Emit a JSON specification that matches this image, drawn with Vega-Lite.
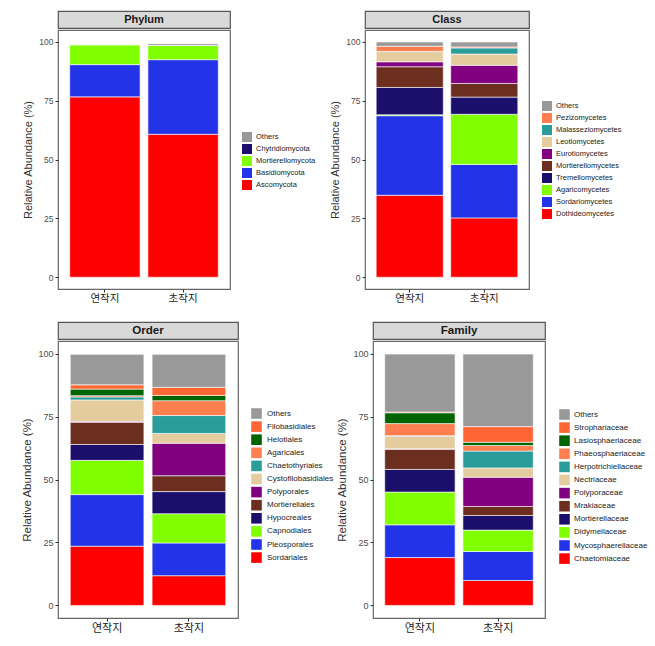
{
  "$schema": "https://vega.github.io/schema/vega-lite/v6.json",
  "background": "white",
  "padding": {"left": 21, "top": 10, "right": 0, "bottom": 0},
  "config": {
    "font": "Liberation Sans",
    "view": {"stroke": "#666666", "strokeWidth": 1.2},
    "axis": {"grid": false, "domain": false, "tickColor": "#333333", "tickSize": 3, "labelColor": "#4D4D4D", "titleColor": "#333333", "titleFontWeight": "normal", "labelFont": "Liberation Sans", "titleFont": "Liberation Sans"},
    "axisX": {"labelAngle": 0, "labelFont": "Noto Sans CJK KR", "labelColor": "#1A1A1A", "labelPadding": 1, "title": null},
    "axisY": {"labelPadding": 2, "titlePadding": 5},
    "legend": {"orient": "none", "direction": "vertical", "symbolType": "square", "symbolStrokeWidth": 0, "symbolOpacity": 1, "labelColor": "#222222", "labelFont": "Liberation Sans", "rowPadding": 2, "labelOffset": 4, "padding": 0, "title": null}
  },
  "datasets": {
    "phylum": [
      {"sample": "연작지", "taxon": "Ascomycota", "rank": 1, "value": 76.6},
      {"sample": "연작지", "taxon": "Basidiomycota", "rank": 2, "value": 13.7},
      {"sample": "연작지", "taxon": "Mortierellomycota", "rank": 3, "value": 8.4},
      {"sample": "연작지", "taxon": "Chytridiomycota", "rank": 4, "value": 0.1},
      {"sample": "연작지", "taxon": "Others", "rank": 5, "value": 0.2},
      {"sample": "초작지", "taxon": "Ascomycota", "rank": 1, "value": 60.7},
      {"sample": "초작지", "taxon": "Basidiomycota", "rank": 2, "value": 31.7},
      {"sample": "초작지", "taxon": "Mortierellomycota", "rank": 3, "value": 6.0},
      {"sample": "초작지", "taxon": "Chytridiomycota", "rank": 4, "value": 0.1},
      {"sample": "초작지", "taxon": "Others", "rank": 5, "value": 0.7}
    ],
    "class": [
      {"sample": "연작지", "taxon": "Dothideomycetes", "rank": 1, "value": 34.8},
      {"sample": "연작지", "taxon": "Sordariomycetes", "rank": 2, "value": 33.8},
      {"sample": "연작지", "taxon": "Agaricomycetes", "rank": 3, "value": 0.4},
      {"sample": "연작지", "taxon": "Tremellomycetes", "rank": 4, "value": 11.6},
      {"sample": "연작지", "taxon": "Mortierellomycetes", "rank": 5, "value": 8.8},
      {"sample": "연작지", "taxon": "Eurotiomycetes", "rank": 6, "value": 2.1},
      {"sample": "연작지", "taxon": "Leotiomycetes", "rank": 7, "value": 4.3},
      {"sample": "연작지", "taxon": "Malasseziomycetes", "rank": 8, "value": 0.1},
      {"sample": "연작지", "taxon": "Pezizomycetes", "rank": 9, "value": 2.2},
      {"sample": "연작지", "taxon": "Others", "rank": 10, "value": 1.8},
      {"sample": "초작지", "taxon": "Dothideomycetes", "rank": 1, "value": 25.2},
      {"sample": "초작지", "taxon": "Sordariomycetes", "rank": 2, "value": 22.7},
      {"sample": "초작지", "taxon": "Agaricomycetes", "rank": 3, "value": 21.3},
      {"sample": "초작지", "taxon": "Tremellomycetes", "rank": 4, "value": 7.3},
      {"sample": "초작지", "taxon": "Mortierellomycetes", "rank": 5, "value": 5.8},
      {"sample": "초작지", "taxon": "Eurotiomycetes", "rank": 6, "value": 7.7},
      {"sample": "초작지", "taxon": "Leotiomycetes", "rank": 7, "value": 4.8},
      {"sample": "초작지", "taxon": "Malasseziomycetes", "rank": 8, "value": 2.6},
      {"sample": "초작지", "taxon": "Pezizomycetes", "rank": 9, "value": 0.4},
      {"sample": "초작지", "taxon": "Others", "rank": 10, "value": 2.1}
    ],
    "order": [
      {"sample": "연작지", "taxon": "Sordariales", "rank": 1, "value": 23.5},
      {"sample": "연작지", "taxon": "Pleosporales", "rank": 2, "value": 20.5},
      {"sample": "연작지", "taxon": "Capnodiales", "rank": 3, "value": 13.6},
      {"sample": "연작지", "taxon": "Hypocreales", "rank": 4, "value": 6.3},
      {"sample": "연작지", "taxon": "Mortierellales", "rank": 5, "value": 8.8},
      {"sample": "연작지", "taxon": "Polyporales", "rank": 6, "value": 0.4},
      {"sample": "연작지", "taxon": "Cystofilobasidiales", "rank": 7, "value": 8.5},
      {"sample": "연작지", "taxon": "Chaetothyriales", "rank": 8, "value": 1.2},
      {"sample": "연작지", "taxon": "Agaricales", "rank": 9, "value": 0.5},
      {"sample": "연작지", "taxon": "Helotiales", "rank": 10, "value": 2.6},
      {"sample": "연작지", "taxon": "Filobasidiales", "rank": 11, "value": 1.7},
      {"sample": "연작지", "taxon": "Others", "rank": 12, "value": 12.1},
      {"sample": "초작지", "taxon": "Sordariales", "rank": 1, "value": 11.8},
      {"sample": "초작지", "taxon": "Pleosporales", "rank": 2, "value": 13.0},
      {"sample": "초작지", "taxon": "Capnodiales", "rank": 3, "value": 11.6},
      {"sample": "초작지", "taxon": "Hypocreales", "rank": 4, "value": 8.8},
      {"sample": "초작지", "taxon": "Mortierellales", "rank": 5, "value": 6.3},
      {"sample": "초작지", "taxon": "Polyporales", "rank": 6, "value": 12.9},
      {"sample": "초작지", "taxon": "Cystofilobasidiales", "rank": 7, "value": 3.9},
      {"sample": "초작지", "taxon": "Chaetothyriales", "rank": 8, "value": 7.1},
      {"sample": "초작지", "taxon": "Agaricales", "rank": 9, "value": 5.9},
      {"sample": "초작지", "taxon": "Helotiales", "rank": 10, "value": 2.1},
      {"sample": "초작지", "taxon": "Filobasidiales", "rank": 11, "value": 3.2},
      {"sample": "초작지", "taxon": "Others", "rank": 12, "value": 13.1}
    ],
    "family": [
      {"sample": "연작지", "taxon": "Chaetomiaceae", "rank": 1, "value": 19.0},
      {"sample": "연작지", "taxon": "Mycosphaerellaceae", "rank": 2, "value": 13.0},
      {"sample": "연작지", "taxon": "Didymellaceae", "rank": 3, "value": 13.0},
      {"sample": "연작지", "taxon": "Mortierellaceae", "rank": 4, "value": 9.0},
      {"sample": "연작지", "taxon": "Mrakiaceae", "rank": 5, "value": 8.0},
      {"sample": "연작지", "taxon": "Polyporaceae", "rank": 6, "value": 0.2},
      {"sample": "연작지", "taxon": "Nectriaceae", "rank": 7, "value": 5.0},
      {"sample": "연작지", "taxon": "Herpotrichiellaceae", "rank": 8, "value": 0.2},
      {"sample": "연작지", "taxon": "Phaeosphaeriaceae", "rank": 9, "value": 4.8},
      {"sample": "연작지", "taxon": "Lasiosphaeriaceae", "rank": 10, "value": 4.3},
      {"sample": "연작지", "taxon": "Strophariaceae", "rank": 11, "value": 0.3},
      {"sample": "연작지", "taxon": "Others", "rank": 12, "value": 23.0},
      {"sample": "초작지", "taxon": "Chaetomiaceae", "rank": 1, "value": 9.9},
      {"sample": "초작지", "taxon": "Mycosphaerellaceae", "rank": 2, "value": 11.5},
      {"sample": "초작지", "taxon": "Didymellaceae", "rank": 3, "value": 8.5},
      {"sample": "초작지", "taxon": "Mortierellaceae", "rank": 4, "value": 5.8},
      {"sample": "초작지", "taxon": "Mrakiaceae", "rank": 5, "value": 3.6},
      {"sample": "초작지", "taxon": "Polyporaceae", "rank": 6, "value": 11.6},
      {"sample": "초작지", "taxon": "Nectriaceae", "rank": 7, "value": 3.7},
      {"sample": "초작지", "taxon": "Herpotrichiellaceae", "rank": 8, "value": 6.7},
      {"sample": "초작지", "taxon": "Phaeosphaeriaceae", "rank": 9, "value": 2.2},
      {"sample": "초작지", "taxon": "Lasiosphaeriaceae", "rank": 10, "value": 1.3},
      {"sample": "초작지", "taxon": "Strophariaceae", "rank": 11, "value": 6.2},
      {"sample": "초작지", "taxon": "Others", "rank": 12, "value": 28.8}
    ]
  },
  "spacing": 16,
  "resolve": {"scale": {"color": "independent", "x": "independent", "y": "independent"}, "legend": {"color": "independent"}},
  "vconcat": [
    {
      "spacing": 12,
      "align": "none",
      "resolve": {"scale": {"color": "independent", "x": "independent", "y": "independent"}, "legend": {"color": "independent"}},
      "hconcat": [
        {
          "spacing": 0,
          "resolve": {"scale": {"color": "independent", "x": "independent", "y": "independent"}, "legend": {"color": "independent"}},
          "vconcat": [
            {
              "width": 172, "height": 17,
              "data": {"values": [{"t": "Phylum"}]},
              "view": {"fill": "#D9D9D9", "stroke": "#555555", "strokeWidth": 1.2},
              "mark": {"type": "text", "fontWeight": "bold", "fontSize": 11, "color": "#1A1A1A", "baseline": "middle", "align": "center"},
              "encoding": {"text": {"field": "t"}}
            },
            {
              "width": 172, "height": 259,
              "data": {"name": "phylum"},
              "mark": {"type": "bar", "stroke": "white", "strokeWidth": 0.6},
              "encoding": {
                "x": {"field": "sample", "type": "nominal", "sort": ["연작지", "초작지"], "scale": {"paddingInner": 0.1, "paddingOuter": 0.15}, "axis": {"labelFontSize": 10.5}},
                "y": {"field": "value", "type": "quantitative", "stack": "zero", "scale": {"domain": [-5, 105], "nice": false, "zero": false}, "axis": {"values": [0, 25, 50, 75, 100], "title": "Relative Abundance (%)", "labelFontSize": 8.5, "titleFontSize": 11}},
                "color": {"field": "taxon", "type": "nominal",
                  "scale": {"domain": ["Others", "Chytridiomycota", "Mortierellomycota", "Basidiomycota", "Ascomycota"], "range": ["#999999", "#1B0F6B", "#80FF00", "#2233E8", "#FF0000"]},
                  "legend": {"legendX": 184, "legendY": 102, "symbolSize": 100, "labelFontSize": 7.5}},
                "order": {"field": "rank", "type": "quantitative", "sort": "ascending"}
              }
            }
          ]
        },
        {
          "spacing": 0,
          "resolve": {"scale": {"color": "independent", "x": "independent", "y": "independent"}, "legend": {"color": "independent"}},
          "vconcat": [
            {
              "width": 164, "height": 17,
              "data": {"values": [{"t": "Class"}]},
              "view": {"fill": "#D9D9D9", "stroke": "#555555", "strokeWidth": 1.2},
              "mark": {"type": "text", "fontWeight": "bold", "fontSize": 11, "color": "#1A1A1A", "baseline": "middle", "align": "center"},
              "encoding": {"text": {"field": "t"}}
            },
            {
              "width": 164, "height": 259,
              "data": {"name": "class"},
              "mark": {"type": "bar", "stroke": "white", "strokeWidth": 0.6},
              "encoding": {
                "x": {"field": "sample", "type": "nominal", "sort": ["연작지", "초작지"], "scale": {"paddingInner": 0.1, "paddingOuter": 0.15}, "axis": {"labelFontSize": 10.5}},
                "y": {"field": "value", "type": "quantitative", "stack": "zero", "scale": {"domain": [-5, 105], "nice": false, "zero": false}, "axis": {"values": [0, 25, 50, 75, 100], "title": "Relative Abundance (%)", "labelFontSize": 8.5, "titleFontSize": 11}},
                "color": {"field": "taxon", "type": "nominal",
                  "scale": {"domain": ["Others", "Pezizomycetes", "Malasseziomycetes", "Leotiomycetes", "Eurotiomycetes", "Mortierellomycetes", "Tremellomycetes", "Agaricomycetes", "Sordariomycetes", "Dothideomycetes"], "range": ["#999999", "#FF7F50", "#2A9D9A", "#E5CC9E", "#800080", "#6B2E1F", "#1B0F6B", "#80FF00", "#2233E8", "#FF0000"]},
                  "legend": {"legendX": 177, "legendY": 71, "symbolSize": 100, "labelFontSize": 7.5}},
                "order": {"field": "rank", "type": "quantitative", "sort": "ascending"}
              }
            }
          ]
        }
      ]
    },
    {
      "spacing": 1,
      "align": "none",
      "resolve": {"scale": {"color": "independent", "x": "independent", "y": "independent"}, "legend": {"color": "independent"}},
      "hconcat": [
        {
          "spacing": 0,
          "resolve": {"scale": {"color": "independent", "x": "independent", "y": "independent"}, "legend": {"color": "independent"}},
          "vconcat": [
            {
              "width": 180, "height": 17,
              "data": {"values": [{"t": "Order"}]},
              "view": {"fill": "#D9D9D9", "stroke": "#555555", "strokeWidth": 1.2},
              "mark": {"type": "text", "fontWeight": "bold", "fontSize": 11.6, "color": "#1A1A1A", "baseline": "middle", "align": "center"},
              "encoding": {"text": {"field": "t"}}
            },
            {
              "width": 180, "height": 277,
              "data": {"name": "order"},
              "mark": {"type": "bar", "stroke": "white", "strokeWidth": 0.6},
              "encoding": {
                "x": {"field": "sample", "type": "nominal", "sort": ["연작지", "초작지"], "scale": {"paddingInner": 0.1, "paddingOuter": 0.15}, "axis": {"labelFontSize": 11}},
                "y": {"field": "value", "type": "quantitative", "stack": "zero", "scale": {"domain": [-5, 105], "nice": false, "zero": false}, "axis": {"values": [0, 25, 50, 75, 100], "title": "Relative Abundance (%)", "labelFontSize": 9, "titleFontSize": 11.5}},
                "color": {"field": "taxon", "type": "nominal",
                  "scale": {"domain": ["Others", "Filobasidiales", "Helotiales", "Agaricales", "Chaetothyriales", "Cystofilobasidiales", "Polyporales", "Mortierellales", "Hypocreales", "Capnodiales", "Pleosporales", "Sordariales"], "range": ["#999999", "#FF6633", "#006400", "#FF7F50", "#2A9D9A", "#E5CC9E", "#800080", "#6B2E1F", "#1B0F6B", "#80FF00", "#2233E8", "#FF0000"]},
                  "legend": {"legendX": 193, "legendY": 67, "symbolSize": 112, "labelFontSize": 8, "rowPadding": 2.1, "labelOffset": 5}},
                "order": {"field": "rank", "type": "quantitative", "sort": "ascending"}
              }
            }
          ]
        },
        {
          "spacing": 0,
          "resolve": {"scale": {"color": "independent", "x": "independent", "y": "independent"}, "legend": {"color": "independent"}},
          "vconcat": [
            {
              "width": 172, "height": 17,
              "data": {"values": [{"t": "Family"}]},
              "view": {"fill": "#D9D9D9", "stroke": "#555555", "strokeWidth": 1.2},
              "mark": {"type": "text", "fontWeight": "bold", "fontSize": 11.6, "color": "#1A1A1A", "baseline": "middle", "align": "center"},
              "encoding": {"text": {"field": "t"}}
            },
            {
              "width": 172, "height": 277,
              "data": {"name": "family"},
              "mark": {"type": "bar", "stroke": "white", "strokeWidth": 0.6},
              "encoding": {
                "x": {"field": "sample", "type": "nominal", "sort": ["연작지", "초작지"], "scale": {"paddingInner": 0.1, "paddingOuter": 0.15}, "axis": {"labelFontSize": 11}},
                "y": {"field": "value", "type": "quantitative", "stack": "zero", "scale": {"domain": [-5, 105], "nice": false, "zero": false}, "axis": {"values": [0, 25, 50, 75, 100], "title": "Relative Abundance (%)", "labelFontSize": 9, "titleFontSize": 11.5}},
                "color": {"field": "taxon", "type": "nominal",
                  "scale": {"domain": ["Others", "Strophariaceae", "Lasiosphaeriaceae", "Phaeosphaeriaceae", "Herpotrichiellaceae", "Nectriaceae", "Polyporaceae", "Mrakiaceae", "Mortierellaceae", "Didymellaceae", "Mycosphaerellaceae", "Chaetomiaceae"], "range": ["#999999", "#FF6633", "#006400", "#FF7F50", "#2A9D9A", "#E5CC9E", "#800080", "#6B2E1F", "#1B0F6B", "#80FF00", "#2233E8", "#FF0000"]},
                  "legend": {"legendX": 186, "legendY": 68, "symbolSize": 112, "labelFontSize": 8, "rowPadding": 2.1}},
                "order": {"field": "rank", "type": "quantitative", "sort": "ascending"}
              }
            }
          ]
        }
      ]
    }
  ]
}
